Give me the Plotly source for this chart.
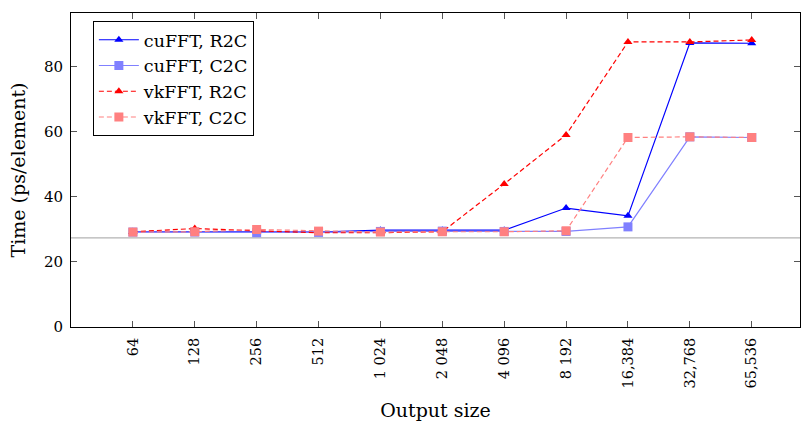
import plotly.graph_objects as go

sizes = ["64", "128", "256", "512", "1 024", "2 048", "4 096", "8 192", "16,384", "32,768", "65,536"]
cufft_r2c = [29.3, 29.3, 29.2, 29.2, 29.8, 29.8, 29.8, 36.6, 34.2, 87.4, 87.3]
cufft_c2c = [29.2, 29.2, 29.0, 29.1, 29.4, 29.5, 29.4, 29.4, 30.8, 58.5, 58.3]
vkfft_r2c = [29.3, 30.3, 29.6, 29.0, 29.0, 29.3, 44.0, 59.1, 87.7, 87.7, 88.3]
vkfft_c2c = [29.2, 29.3, 30.0, 29.5, 29.2, 29.3, 29.3, 29.6, 58.3, 58.5, 58.3]
ref_line = 27.4

font = "DejaVu Serif"
fig = go.Figure()
series = [
    ("cuFFT, R2C", cufft_r2c, "#0000ff", "solid", "triangle-up", 8),
    ("cuFFT, C2C", cufft_c2c, "#8080ff", "solid", "square", 9),
    ("vkFFT, R2C", vkfft_r2c, "#ff0000", "5px,3px", "triangle-up", 8),
    ("vkFFT, C2C", vkfft_c2c, "#ff8080", "5px,3px", "square", 9),
]
for name, ys, col, dash, sym, ms in series:
    fig.add_trace(go.Scatter(
        x=sizes, y=ys, name=name, mode="lines+markers",
        line=dict(color=col, width=1.2, dash=dash),
        marker=dict(symbol=sym, size=ms, color=col),
    ))

fig.add_shape(type="line", xref="paper", yref="y", x0=0, x1=1, y0=ref_line, y1=ref_line,
              line=dict(color="#b3b3b3", width=1.2), layer="below")

fig.update_layout(
    width=801, height=422,
    margin=dict(l=71, r=1, t=13, b=95),
    paper_bgcolor="white", plot_bgcolor="white",
    font=dict(family=font, size=15, color="black"),
    showlegend=True,
    legend=dict(x=0.03, y=0.975, xanchor="left", yanchor="top",
                bordercolor="black", borderwidth=1, bgcolor="white",
                font=dict(family=font, size=17.5), tracegroupgap=0, itemwidth=40),
    xaxis=dict(type="category", categoryorder="array", categoryarray=sizes,
               range=[-1.0, 10.78], showgrid=False, zeroline=False,
               showline=True, linecolor="black", linewidth=1, mirror="allticks",
               ticks="inside", ticklen=6, tickcolor="#555", tickangle=-90,
               tickfont=dict(family=font, size=14.5), ticklabelstandoff=4,
               title=dict(text="Output size", font=dict(family=font, size=19), standoff=16)),
    yaxis=dict(range=[0, 96.6], tickvals=[0, 20, 40, 60, 80], showgrid=False, zeroline=False,
               showline=True, linecolor="black", linewidth=1, mirror="allticks",
               ticks="inside", ticklen=6, tickcolor="#555",
               tickfont=dict(family=font, size=15), ticklabelstandoff=4,
               title=dict(text="Time (ps/element)", font=dict(family=font, size=19), standoff=13)),
)
fig.write_html("out.html")
